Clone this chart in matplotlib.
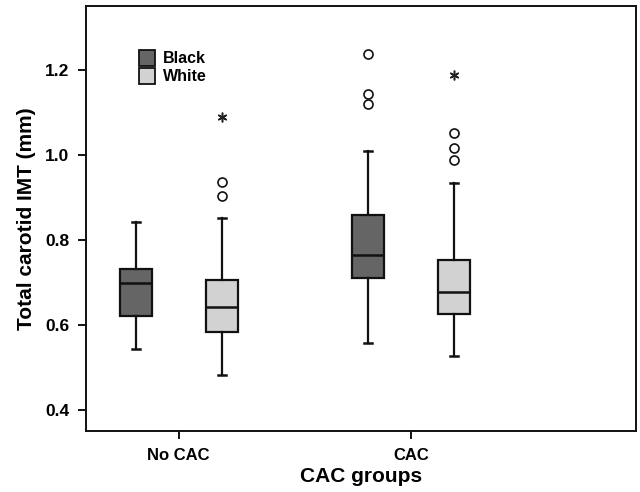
import numpy as np
import matplotlib.pyplot as plt

plt.rcParams['font.family'] = ['Liberation Sans', 'DejaVu Sans']
plt.rcParams['font.weight'] = 'bold'

groups = ['No CAC', 'CAC']
races = ['Black', 'White']
colors = ['#656565', '#d2d2d2']

# five-number summaries per group (rows) and race (cols)
whislo = [[0.544, 0.482], [0.559, 0.528]]
q1 = [[0.622, 0.583], [0.712, 0.627]]
med = [[0.698, 0.642], [0.764, 0.677]]
q3 = [[0.732, 0.707], [0.859, 0.754]]
whishi = [[0.842, 0.853], [1.010, 0.935]]

# outliers (circles) and extremes (stars)
outliers = [[[], [0.904, 0.936]], [[1.120, 1.144, 1.239], [0.988, 1.017, 1.052]]]
extremes = [[[], [1.090]], [[], [1.188]]]

fig = plt.figure(figsize=(6.4, 4.92), dpi=100)
ax = fig.add_axes([0.134, 0.124, 0.86, 0.864])

offset = 0.185
width = 0.138
for gi in range(len(groups)):
    for ri in range(len(races)):
        pos = gi + (ri - 0.5) * 2 * offset
        st = dict(whislo=whislo[gi][ri], q1=q1[gi][ri], med=med[gi][ri],
                  q3=q3[gi][ri], whishi=whishi[gi][ri], fliers=outliers[gi][ri])
        ax.bxp([st], positions=[pos], widths=width, capwidths=0.035,
               patch_artist=True, showfliers=True,
               boxprops=dict(facecolor=colors[ri], edgecolor='#111111', linewidth=1.6),
               medianprops=dict(color='#111111', linewidth=1.8),
               whiskerprops=dict(color='#111111', linewidth=1.6),
               capprops=dict(color='#111111', linewidth=1.8),
               flierprops=dict(marker='o', markerfacecolor='white',
                               markeredgecolor='#111111', markersize=6.5,
                               markeredgewidth=1.2, linestyle='none'))
        if extremes[gi][ri]:
            ax.plot([pos] * len(extremes[gi][ri]), extremes[gi][ri], linestyle='none',
                    marker=(6, 2, 0), color='#222222', markersize=7,
                    markeredgewidth=1.1)

ax.set_xlim(-0.40, 1.97)
ax.set_ylim(0.351, 1.351)
ax.set_yticks([0.4, 0.6, 0.8, 1.0, 1.2])
ax.set_yticklabels(['0.4', '0.6', '0.8', '1.0', '1.2'], fontsize=12.5, fontweight='bold')
ax.set_xticks([0, 1])
ax.set_xticklabels(groups, fontsize=12, fontweight='bold')
ax.tick_params(axis='both', length=6, width=1.3, direction='out', pad=6)
for s in ax.spines.values():
    s.set_linewidth(1.4)
    s.set_color('#111111')

ax.set_xlabel('CAC groups', fontsize=15, fontweight='bold', labelpad=3)
ax.set_ylabel('Total carotid IMT (mm)', fontsize=15, fontweight='bold', labelpad=6)

handles = [plt.Rectangle((0, 0), 1, 1, facecolor=c, edgecolor='#111111', linewidth=1.3)
           for c in colors]
leg = ax.legend(handles, races, loc='upper left', bbox_to_anchor=(0.07, 0.93),
                frameon=False, handlelength=1.05, handleheight=1.15,
                handletextpad=0.45, labelspacing=0.1,
                prop=dict(weight='bold', size=11.5))

fig.savefig('out.png', dpi=100)
